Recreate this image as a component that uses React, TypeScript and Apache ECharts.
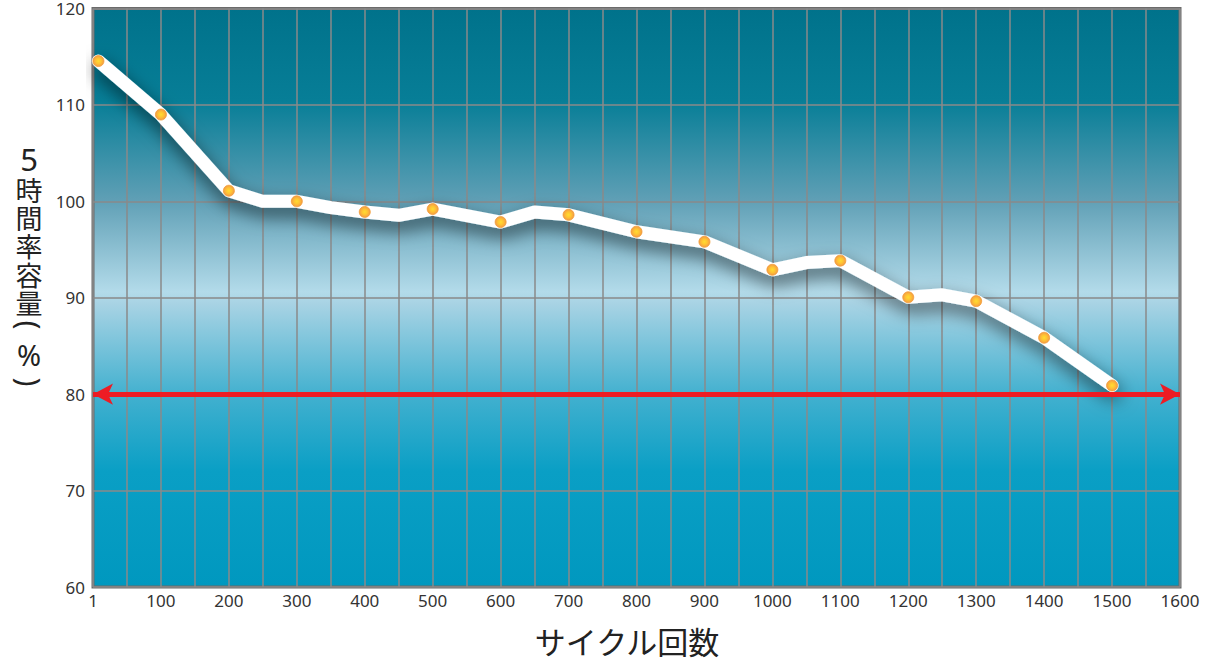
import React, { useEffect, useRef } from "react";
import * as echarts from "echarts";

// Line vertices (cycles, capacity %)
const lineCycles = [8, 100, 200, 250, 300, 350, 400, 450, 500, 600, 650, 700, 800, 900, 1000, 1050, 1100, 1200, 1250, 1300, 1400, 1500];
const lineValues = [114.55, 109.0, 101.1, 100.0, 100.0, 99.35, 98.9, 98.55, 99.2, 97.85, 98.9, 98.6, 96.85, 95.8, 92.9, 93.65, 93.85, 90.05, 90.3, 89.65, 85.85, 80.9];

// Measured points (orange dots)
const pointCycles = [8, 100, 200, 300, 400, 500, 600, 700, 800, 900, 1000, 1100, 1200, 1300, 1400, 1500];
const pointValues = [114.55, 109.0, 101.1, 100.0, 98.9, 99.2, 97.85, 98.6, 96.85, 95.8, 92.9, 93.85, 90.05, 89.65, 85.85, 80.9];

const thresholdValue = 80;
const xTitle = "サイクル回数";
const yTitleChars = ["5", "時", "間", "率", "容", "量", "(", "%", ")"];

export default function App() {
  const ref = useRef<HTMLDivElement>(null);
  useEffect(() => {
    if (!ref.current) return;
    const chart = echarts.init(ref.current, undefined, { renderer: "svg" });
    const font = "'Noto Sans', 'Liberation Sans', sans-serif";
    const cjk = "'Noto Sans CJK JP', 'Noto Sans', sans-serif";
    // layout for vertical y title: center y, font size, rotation
    const yTitleCenters = [159, 189.5, 217.5, 245.5, 274.5, 302.5, 325, 354, 382];
    const yTitleSizes = [31, 27, 27, 27, 27, 27, 30, 29, 30];
    const yTitleLH = [28, 26, 26, 26, 26, 26, 20, 24, 20];
    const yTitleRot = [0, 0, 0, 0, 0, 0, -Math.PI / 2, 0, -Math.PI / 2];
    const yTitleGraphics = yTitleChars.map((ch, i) => ({
      type: "group",
      x: 29,
      y: yTitleCenters[i],
      rotation: yTitleRot[i],
      children: [
        {
          type: "text",
          x: 0,
          y: 0,
          style: {
            text: ch,
            fontSize: yTitleSizes[i],
            lineHeight: yTitleLH[i],
            fontFamily: i === 0 || i >= 6 ? font : cjk,
            fill: "#222",
            textAlign: "center",
            textVerticalAlign: "middle",
          },
        },
      ],
    }));
    chart.setOption({
      animation: false,
      backgroundColor: "#ffffff",
      grid: {
        left: 93,
        right: 26,
        top: 8,
        bottom: 78,
        show: true,
        borderColor: "#6b6b6b",
        borderWidth: 3,
        backgroundColor: new echarts.graphic.LinearGradient(0, 0, 0, 1, [
          { offset: 0, color: "#00728b" },
          { offset: 0.16, color: "#077e97" },
          { offset: 0.33, color: "#5f9fb5" },
          { offset: 0.49, color: "#b3dbea" },
          { offset: 0.51, color: "#a8d3e4" },
          { offset: 0.67, color: "#41b0cf" },
          { offset: 0.8, color: "#0a9fc5" },
          { offset: 1, color: "#0098bf" },
        ]),
      },
      xAxis: {
        type: "value",
        min: 0,
        max: 1600,
        interval: 50,
        axisLine: { show: false },
        axisTick: { show: false },
        axisLabel: {
          color: "#333",
          fontSize: 17,
          fontFamily: font,
          margin: 5,
          showMinLabel: true,
          showMaxLabel: true,
          formatter: (v: number) => (v % 100 === 0 ? (v === 0 ? "1" : String(v)) : ""),
        },
        splitLine: { show: true, lineStyle: { color: "#8a8a8a", width: 1.5 } },
      },
      yAxis: {
        type: "value",
        min: 60,
        max: 120,
        interval: 10,
        axisLine: { show: false },
        axisTick: { show: false },
        axisLabel: {
          color: "#333",
          fontSize: 17,
          fontFamily: font,
          margin: 8,
          padding: [4, 0, 0, 0],
        },
        splitLine: { show: true, lineStyle: { color: "#8a8a8a", width: 1.5 } },
      },
      series: [
        {
          type: "line",
          z: 2,
          data: lineCycles.map((c, i) => [c, lineValues[i]]),
          showSymbol: false,
          symbol: "none",
          silent: true,
          lineStyle: {
            color: "#ffffff",
            width: 13,
            cap: "round",
            join: "round",
            shadowColor: "rgba(0,0,0,0.6)",
            shadowBlur: 18,
            shadowOffsetX: 2,
            shadowOffsetY: 8,
          },
          markLine: {
            silent: true,
            symbol: ["arrow", "arrow"],
            symbolSize: [16, 20],
            label: { show: false },
            lineStyle: { color: "#ed1c24", width: 5, type: "solid" },
            data: [{ yAxis: thresholdValue }],
          },
        },
        {
          type: "scatter",
          z: 4,
          silent: true,
          data: pointCycles.map((c, i) => [c, pointValues[i]]),
          symbolSize: 11,
          itemStyle: {
            color: new echarts.graphic.RadialGradient(0.5, 0.5, 0.5, [
              { offset: 0, color: "#ffd400" },
              { offset: 0.5, color: "#ffb400" },
              { offset: 1, color: "#f0821a" },
            ]),
            borderColor: "#f39c33",
            borderWidth: 1,
          },
        },
      ],
      graphic: [
        ...yTitleGraphics,
        {
          type: "text",
          x: 627,
          y: 640,
          style: {
            text: xTitle,
            fontSize: 31,
            fontFamily: cjk,
            fill: "#222",
            textAlign: "center",
            textVerticalAlign: "middle",
          },
        },
      ],
    });
    return () => chart.dispose();
  }, []);
  return (
    <div
      ref={ref}
      style={{ position: "fixed", left: 0, top: 0, width: 1206, height: 665 }}
    />
  );
}
